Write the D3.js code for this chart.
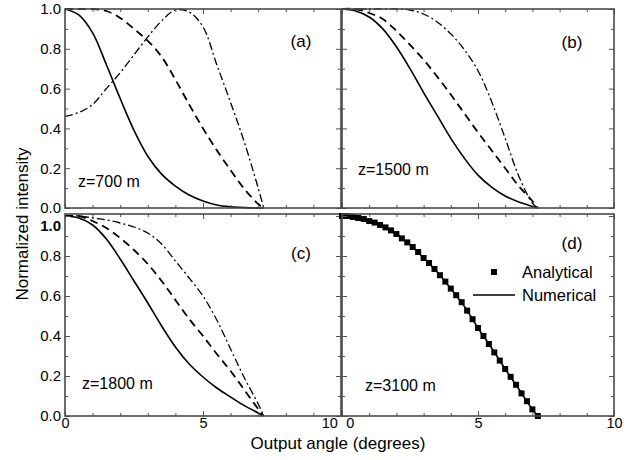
<!DOCTYPE html>
<html>
<head>
<meta charset="utf-8">
<script src="https://cdn.jsdelivr.net/npm/d3@7"></script>
<style>
  body { margin: 0; background: #fff; }
  text { font-family: "Liberation Sans", Arial, sans-serif; fill: #000; }
</style>
</head>
<body>
<svg id="chart" width="642" height="460"></svg>
<script>
// output angle (degrees) sampled for the three beam curves
var angles = [0, 0.5, 1, 1.5, 2, 2.5, 3, 3.5, 4, 4.5, 5, 5.5, 6, 6.5, 7, 7.2];

// (a) z=700 m
var aSolid   = [1.0, 0.97, 0.88, 0.72, 0.55, 0.39, 0.26, 0.17, 0.11, 0.065, 0.035, 0.015, 0.006, 0.002, 0.0, 0.0];
var aDash    = [1.0, 1.0, 1.0, 0.99, 0.955, 0.90, 0.84, 0.76, 0.645, 0.52, 0.40, 0.29, 0.19, 0.095, 0.02, 0.0];
var aDashDot = [0.46, 0.48, 0.52, 0.60, 0.68, 0.77, 0.86, 0.94, 0.995, 0.985, 0.91, 0.72, 0.53, 0.33, 0.10, 0.0];
// (b) z=1500 m
var bSolid   = [1.0, 0.99, 0.96, 0.90, 0.81, 0.70, 0.58, 0.465, 0.35, 0.25, 0.165, 0.105, 0.06, 0.03, 0.008, 0.0];
var bDash    = [1.0, 1.0, 0.98, 0.95, 0.89, 0.82, 0.745, 0.66, 0.57, 0.475, 0.38, 0.29, 0.20, 0.11, 0.035, 0.0];
var bDashDot = [1.0, 1.0, 1.0, 1.0, 1.0, 0.995, 0.975, 0.935, 0.875, 0.795, 0.69, 0.535, 0.35, 0.16, 0.025, 0.0];
// (c) z=1800 m
var cSolid   = [1.0, 0.99, 0.955, 0.885, 0.785, 0.675, 0.565, 0.45, 0.345, 0.26, 0.195, 0.14, 0.095, 0.052, 0.015, 0.0];
var cDash    = [1.0, 1.0, 0.975, 0.94, 0.89, 0.83, 0.76, 0.675, 0.58, 0.485, 0.40, 0.31, 0.225, 0.13, 0.035, 0.0];
var cDashDot = [1.0, 1.0, 0.99, 0.98, 0.965, 0.945, 0.915, 0.86, 0.775, 0.69, 0.60, 0.48, 0.335, 0.19, 0.06, 0.0];
// (d) z=3100 m numerical curve
var dNumerical = [1.0, 0.993, 0.975, 0.949, 0.91, 0.857, 0.79, 0.72, 0.637, 0.548, 0.44, 0.34, 0.235, 0.135, 0.033, 0.0];
// (d) analytical points
var dAnaAngle = [0, 0.2, 0.4, 0.6, 0.8, 1.0, 1.2, 1.4, 1.6, 1.8, 2.0, 2.2, 2.4, 2.6, 2.8, 3.0, 3.2, 3.4, 3.6,
                 3.8, 4.0, 4.2, 4.4, 4.6, 4.8, 5.0, 5.2, 5.4, 5.6, 5.8, 6.0, 6.2, 6.4, 6.6, 6.8, 7.0, 7.2];
var dAnalytical = [1.0, 1.0, 0.995, 0.99, 0.985, 0.975, 0.967, 0.955, 0.943, 0.928, 0.91, 0.888, 0.868, 0.845,
                   0.82, 0.79, 0.765, 0.735, 0.704, 0.672, 0.637, 0.604, 0.569, 0.527, 0.484, 0.44, 0.40, 0.36,
                   0.318, 0.277, 0.235, 0.196, 0.156, 0.113, 0.074, 0.033, 0.0];

var xMajor = [0, 5, 10];
var xMinor = [1, 2, 3, 4, 6, 7, 8, 9];
var yMajor = [0, 0.2, 0.4, 0.6, 0.8, 1.0];
var yMinor = [0.1, 0.3, 0.5, 0.7, 0.9];
var legendLabels = ["Analytical", "Numerical"];

var cols = [{left: 65, right: 341}, {left: 342, right: 614}];
var rows = [{top: 9, bottom: 208, ymax: 1.0}, {top: 214, bottom: 416, ymax: 1.01}];

var panels = [
  {col: 0, row: 0, tag: "(a)", z: "z=700 m",  lines: [aSolid, aDash, aDashDot], tagPos: [301, 41],  zPos: [78, 181]},
  {col: 1, row: 0, tag: "(b)", z: "z=1500 m", lines: [bSolid, bDash, bDashDot], tagPos: [572, 42],  zPos: [358, 169]},
  {col: 0, row: 1, tag: "(c)", z: "z=1800 m", lines: [cSolid, cDash, cDashDot], tagPos: [301, 253], zPos: [82, 383]},
  {col: 1, row: 1, tag: "(d)", z: "z=3100 m", lines: [],                         tagPos: [572, 243], zPos: [365, 385]}
];

var styles = [
  {dash: null,      width: 1.6},
  {dash: "8,5",     width: 1.8},
  {dash: "8,3,2,3", width: 1.3}
];

var svg = d3.select("#chart");
var frameColor = "#4a4a4a";

panels.forEach(function(p) {
  var c = cols[p.col], r = rows[p.row];
  var x = d3.scaleLinear().domain([0, 10]).range([c.left, c.right]);
  var y = d3.scaleLinear().domain([0, r.ymax]).range([r.bottom, r.top]);
  var g = svg.append("g");

  var line = d3.line()
    .x(function(d) { return x(d[0]); })
    .y(function(d) { return y(d[1]); })
    .curve(d3.curveCatmullRom.alpha(0.5));

  p.lines.forEach(function(vals, i) {
    g.append("path")
      .datum(angles.map(function(a, k) { return [a, vals[k]]; }))
      .attr("d", line)
      .attr("fill", "none")
      .attr("stroke", "#000")
      .attr("stroke-width", styles[i].width)
      .attr("stroke-dasharray", styles[i].dash);
  });

  if (p.tag === "(d)") {
    g.append("path")
      .datum(angles.map(function(a, k) { return [a, dNumerical[k]]; }))
      .attr("d", line)
      .attr("fill", "none")
      .attr("stroke", "#000")
      .attr("stroke-width", 1.6);
    g.selectAll("rect.pt")
      .data(dAnaAngle.map(function(a, k) { return [a, dAnalytical[k]]; }))
      .enter().append("rect")
      .attr("class", "pt")
      .attr("x", function(d) { return x(d[0]) - 3; })
      .attr("y", function(d) { return y(d[1]) - 3; })
      .attr("width", 6).attr("height", 6)
      .attr("fill", "#000");

    // legend
    g.append("rect").attr("x", 491).attr("y", 269).attr("width", 6).attr("height", 6).attr("fill", "#000");
    g.append("line").attr("x1", 473).attr("x2", 515).attr("y1", 295).attr("y2", 295)
      .attr("stroke", "#000").attr("stroke-width", 1.6);
    g.selectAll("text.leg").data(legendLabels).enter().append("text")
      .attr("class", "leg")
      .attr("x", 522)
      .attr("y", function(d, i) { return 272 + i * 23; })
      .attr("dy", "0.35em")
      .attr("font-size", 16.5)
      .text(function(d) { return d; });
  }

  // ticks on all four sides, pointing inwards
  function side(axisFn, scale, vals, size, pos, labels) {
    var ax = axisFn(scale).tickValues(vals).tickSize(-size).tickPadding(4);
    var a = g.append("g").attr("transform", pos).call(ax);
    a.select(".domain").remove();
    a.selectAll("line").attr("stroke", "#555").attr("stroke-width", 1);
    if (!labels) a.selectAll("text").remove();
    a.selectAll("text").attr("font-size", 15).attr("font-family", null);
    return a;
  }
  side(d3.axisBottom, x, xMinor, 3, "translate(0," + r.bottom + ")", false);
  side(d3.axisTop, x, xMinor, 3, "translate(0," + r.top + ")", false);
  side(d3.axisTop, x, xMajor, 5, "translate(0," + r.top + ")", false);
  side(d3.axisLeft, y, yMinor, 3, "translate(" + c.left + ",0)", false);
  side(d3.axisRight, y, yMinor, 3, "translate(" + c.right + ",0)", false);
  side(d3.axisRight, y, yMajor, 5, "translate(" + c.right + ",0)", false);

  var bx = side(d3.axisBottom, x, xMajor, 5, "translate(0," + r.bottom + ")", p.row === 1);
  bx.selectAll("text").attr("y", 2).attr("font-size", 14.5);
  if (p.col === 0) bx.selectAll("text").filter(function(d) { return d === 10; }).attr("text-anchor", "end").attr("dx", "-0.25em");
  if (p.col === 1) bx.selectAll("text").filter(function(d) { return d === 0; }).attr("text-anchor", "start").attr("dx", "0.25em");

  var ly = side(d3.axisLeft, y, yMajor, 5, "translate(" + c.left + ",0)", p.col === 0);
  ly.selectAll("text").text(function(d) { return d.toFixed(1); });
  if (p.row === 1) {
    ly.selectAll("text").filter(function(d) { return d === 1.0; })
      .attr("dy", "0.95em").attr("font-weight", "bold");
  }

  g.append("rect")
    .attr("x", c.left).attr("y", r.top)
    .attr("width", c.right - c.left).attr("height", r.bottom - r.top)
    .attr("fill", "none").attr("stroke", frameColor).attr("stroke-width", 1.6);

  g.append("text").attr("x", p.tagPos[0]).attr("y", p.tagPos[1]).attr("dy", "0.35em")
    .attr("text-anchor", "middle").attr("font-size", 17).text(p.tag);
  g.append("text").attr("x", p.zPos[0]).attr("y", p.zPos[1]).attr("dy", "0.35em")
    .attr("font-size", 16).text(p.z);
});

svg.append("text")
  .attr("transform", "translate(22,224) rotate(-90)")
  .attr("text-anchor", "middle").attr("dy", "0.35em")
  .attr("font-size", 17)
  .text("Normalized intensity");

svg.append("text")
  .attr("x", 338).attr("y", 443).attr("dy", "0.35em")
  .attr("text-anchor", "middle")
  .attr("font-size", 17)
  .text("Output angle (degrees)");
</script>
</body>
</html>
